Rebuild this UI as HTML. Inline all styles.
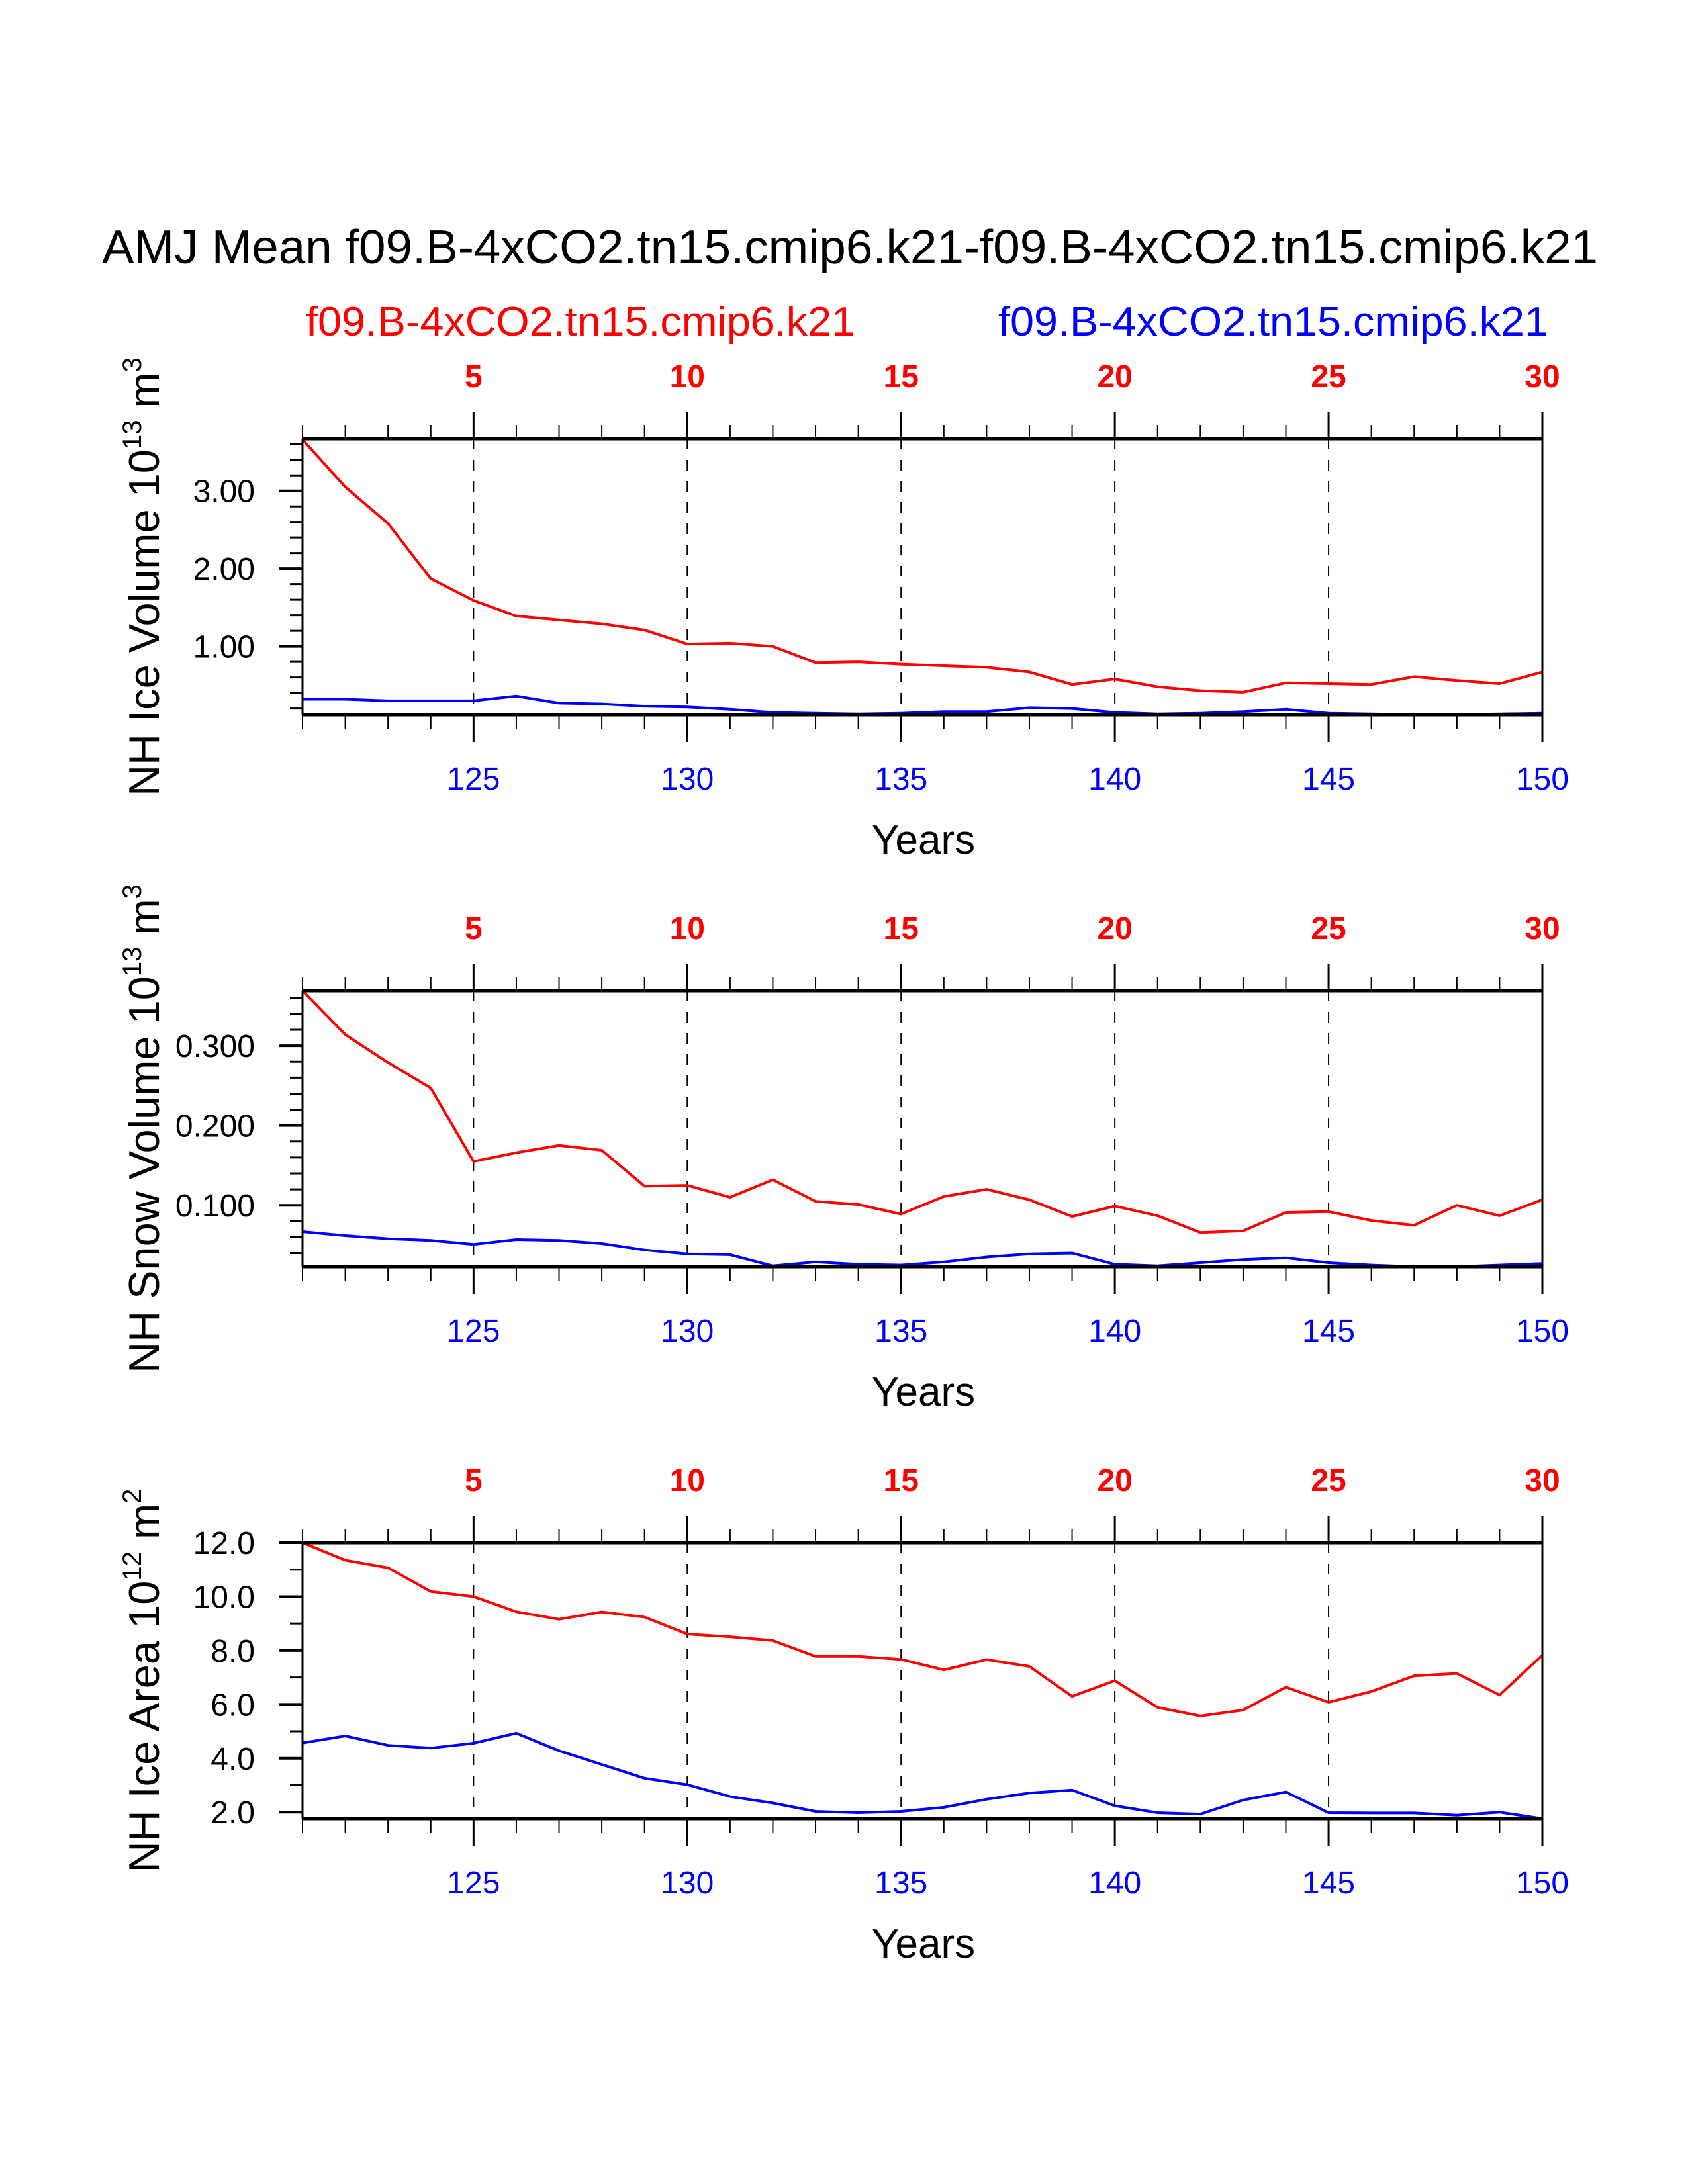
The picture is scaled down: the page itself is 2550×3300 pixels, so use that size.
<!DOCTYPE html>
<html><head><meta charset="utf-8">
<style>
html,body{margin:0;padding:0;background:#fff;}
svg{display:block;font-family:"Liberation Sans",sans-serif;}
</style></head>
<body>
<svg id="chart" width="2550" height="3300" viewBox="0 0 2550 3300" xmlns="http://www.w3.org/2000/svg">
<rect width="2550" height="3300" fill="#fff"/>
<text x="1284" y="398" font-size="72" text-anchor="middle" textLength="2260" lengthAdjust="spacingAndGlyphs">AMJ Mean f09.B-4xCO2.tn15.cmip6.k21-f09.B-4xCO2.tn15.cmip6.k21</text>
<text x="462" y="507" font-size="62" fill="#ff0000" textLength="830" lengthAdjust="spacingAndGlyphs">f09.B-4xCO2.tn15.cmip6.k21</text>
<text x="1508" y="507" font-size="62" fill="#0000ff" textLength="831" lengthAdjust="spacingAndGlyphs">f09.B-4xCO2.tn15.cmip6.k21</text>
<g id="panels"></g>
</svg>
<script>
const years = [121,122,123,124,125,126,127,128,129,130,131,132,133,134,135,136,137,138,139,140,141,142,143,144,145,146,147,148,149,150];
const topTicks = [5,10,15,20,25,30];
const bottomTicks = [125,130,135,140,145,150];

const iceVolRed = [3.66,3.05,2.58,1.87,1.59,1.39,1.34,1.29,1.21,1.03,1.04,1.00,0.79,0.80,0.77,0.75,0.73,0.67,0.51,0.58,0.48,0.43,0.41,0.53,0.52,0.51,0.61,0.56,0.52,0.67];
const iceVolBlue = [0.32,0.32,0.30,0.30,0.30,0.36,0.27,0.26,0.23,0.22,0.19,0.15,0.14,0.13,0.14,0.16,0.16,0.21,0.20,0.15,0.13,0.14,0.16,0.19,0.14,0.13,0.12,0.12,0.13,0.14];
const iceVolTicks = ["1.00","2.00","3.00"];

const snowVolRed = [0.369,0.314,0.279,0.247,0.155,0.166,0.175,0.169,0.124,0.125,0.110,0.132,0.105,0.101,0.089,0.111,0.120,0.107,0.086,0.099,0.087,0.066,0.068,0.091,0.092,0.081,0.075,0.100,0.087,0.107];
const snowVolBlue = [0.067,0.062,0.058,0.056,0.051,0.057,0.056,0.052,0.044,0.039,0.038,0.024,0.029,0.026,0.025,0.029,0.035,0.039,0.040,0.026,0.024,0.028,0.032,0.034,0.028,0.025,0.023,0.023,0.025,0.027];
const snowVolTicks = ["0.100","0.200","0.300"];

const iceAreaRed = [12.0,11.35,11.07,10.19,10.0,9.44,9.16,9.43,9.24,8.61,8.51,8.37,7.78,7.78,7.67,7.28,7.66,7.41,6.30,6.88,5.89,5.57,5.79,6.64,6.08,6.48,7.06,7.15,6.35,7.83];
const iceAreaBlue = [4.57,4.83,4.48,4.38,4.56,4.93,4.28,3.77,3.26,3.02,2.58,2.34,2.03,1.98,2.03,2.18,2.48,2.71,2.82,2.24,1.98,1.93,2.45,2.75,1.98,1.97,1.97,1.89,2.00,1.76];
const iceAreaTicks = ["2.0","4.0","6.0","8.0","10.0","12.0"];

const NS = "http://www.w3.org/2000/svg";
const root = document.getElementById('panels');
const X0 = 457, X1 = 2330, PH = 417;
function xs(yr){ return X0 + (yr - years[0]) / (years[years.length-1] - years[0]) * (X1 - X0); }
function mk(tag, attrs, parent){ const e = document.createElementNS(NS, tag); for (const k in attrs) e.setAttribute(k, attrs[k]); parent.appendChild(e); return e; }

const panels = [
 {name:'ice-volume', top:663, ymin:0.12, ymax:3.67, minor:0.2, red:iceVolRed, blue:iceVolBlue, ticks:iceVolTicks, label:'NH Ice Volume 10', sup:'13', unit:' m', usup:'3'},
 {name:'snow-volume', top:1497, ymin:0.023, ymax:0.369, minor:0.02, red:snowVolRed, blue:snowVolBlue, ticks:snowVolTicks, label:'NH Snow Volume 10', sup:'13', unit:' m', usup:'3'},
 {name:'ice-area', top:2331, ymin:1.76, ymax:12.0, minor:1.0, red:iceAreaRed, blue:iceAreaBlue, ticks:iceAreaTicks, label:'NH Ice Area 10', sup:'12', unit:' m', usup:'2'}
];

panels.forEach(p => {
  const g = mk('g', {}, root);
  
  
  const T = p.top, B = p.top + PH;
  const ys = v => B - (v - p.ymin) / (p.ymax - p.ymin) * PH;
  bottomTicks.forEach(yr => {
    if (yr === 150) return;
    const l = mk('line', {x1:xs(yr), x2:xs(yr), y1:T, y2:B, stroke:'#000', 'stroke-width':2, 'stroke-dasharray':'16,16'}, g);
    
    
  });
  years.forEach(yr => {
    const major = (yr % 5 === 0);
    const len = major ? 41 : 21;
    mk('line', {x1:xs(yr), x2:xs(yr), y1:T, y2:T-len, stroke:'#000', 'stroke-width':major?3:2}, g);
    mk('line', {x1:xs(yr), x2:xs(yr), y1:B, y2:B+len, stroke:'#000', 'stroke-width':major?3:2}, g);
  });
  const start = Math.ceil(p.ymin / p.minor - 1e-6);
  for (let i = start; i * p.minor <= p.ymax + 1e-9; i++) {
    const v = i * p.minor;
    const isMaj = p.ticks.some(t => Math.abs(parseFloat(t) - v) < 1e-6);
    mk('line', {x1:X0, x2:X0 - (isMaj ? 36 : 19), y1:ys(v), y2:ys(v), stroke:'#000', 'stroke-width':isMaj?4:3}, g);
  }
  p.ticks.forEach(t => {
    const tx = mk('text', {x:385, y:ys(parseFloat(t)) + 17, 'font-size':48, 'text-anchor':'end'}, g);
    
    
    tx.textContent = t;
  });
  topTicks.forEach(t => {
    const tx = mk('text', {x:xs(years[0] + t - 1), y:T - 78, 'font-size':48, 'font-weight':'bold', fill:'#ff0000', 'text-anchor':'middle'}, g);
    
    
    tx.textContent = t;
  });
  bottomTicks.forEach(t => {
    const tx = mk('text', {x:xs(t), y:B + 113, 'font-size':48, fill:'#0000ff', 'text-anchor':'middle'}, g);
    
    
    tx.textContent = t;
  });
  const xt = mk('text', {x:1395, y:B + 210, 'font-size':62, 'text-anchor':'middle'}, g);
  
  
  xt.textContent = 'Years';
  const yt = mk('text', {x:0, y:0, 'font-size':65, 'text-anchor':'middle', transform:`translate(240,${(T+B)/2}) rotate(-90)`}, g);
  
  
  yt.appendChild(document.createTextNode(p.label));
  const s1 = mk('tspan', {'font-size':40, dy:-27}, yt); s1.textContent = p.sup;
  const u = mk('tspan', {dy:27}, yt); u.textContent = p.unit;
  const s2 = mk('tspan', {'font-size':40, dy:-27}, yt); s2.textContent = p.usup;
  [[p.red,'#ff0000','red-series'],[p.blue,'#0000ff','blue-series']].forEach(([arr,col,nm]) => {
    const pts = arr.map((v,i) => xs(years[i]).toFixed(1) + ',' + ys(v).toFixed(1)).join(' ');
    const pl = mk('polyline', {points:pts, fill:'none', stroke:col, 'stroke-width':4, 'stroke-linejoin':'miter'}, g);
    
    
  });
  mk('line', {x1:X0-1, x2:X1+1, y1:T, y2:T, stroke:'#000', 'stroke-width':5}, g);
  mk('line', {x1:X0-1, x2:X1+1, y1:B, y2:B, stroke:'#000', 'stroke-width':5}, g);
  mk('line', {x1:X0, x2:X0, y1:T, y2:B, stroke:'#000', 'stroke-width':3}, g);
  mk('line', {x1:X1, x2:X1, y1:T, y2:B, stroke:'#000', 'stroke-width':3}, g);
});
</script>
</body></html>
